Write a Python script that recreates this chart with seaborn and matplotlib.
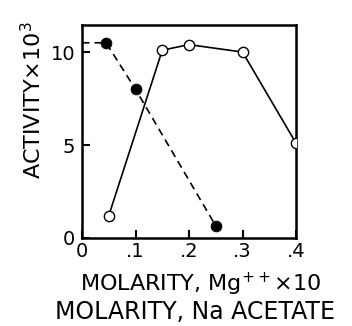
import matplotlib
matplotlib.use("Agg")
import matplotlib.pyplot as plt
import seaborn as sns
import pandas as pd

# Mg++ x10 series (open circles, solid line)
mg_x = [0.05, 0.15, 0.20, 0.30, 0.40]
mg_y = [1.2, 10.1, 10.4, 10.0, 5.1]

# Na acetate series (filled circles, dashed line)
na_x = [0.0, 0.045, 0.10, 0.25]
na_y = [10.5, 10.5, 8.0, 0.65]
na_marked = [False, True, True, True]

x_ticks = [0, 0.1, 0.2, 0.3, 0.4]
x_ticklabels = ["0", ".1", ".2", ".3", ".4"]
y_ticks = [0, 5, 10]
y_ticklabels = ["0", "5", "10"]

sns.set_style("white")
plt.rcParams['font.family'] = ['DejaVu Sans']
plt.rcParams['text.color'] = 'black'
plt.rcParams['xtick.color'] = 'black'
plt.rcParams['ytick.color'] = 'black'
plt.rcParams['axes.labelcolor'] = 'black'

fig = plt.figure(figsize=(3.52, 3.26), dpi=100)
ax = fig.add_axes([0.233, 0.270, 0.608, 0.653])

df_mg = pd.DataFrame({"x": mg_x, "y": mg_y})
df_na = pd.DataFrame({"x": na_x, "y": na_y, "m": na_marked})

sns.lineplot(data=df_na, x="x", y="y", ax=ax, color="black", lw=1.2,
             linestyle=(0, (4.5, 3)), sort=False)
sns.scatterplot(data=df_na[df_na["m"]], x="x", y="y", ax=ax, color="black",
                s=60, edgecolor="black", zorder=4)
sns.lineplot(data=df_mg, x="x", y="y", ax=ax, color="black", lw=1.2, sort=False)
sns.scatterplot(data=df_mg, x="x", y="y", ax=ax, facecolor="white",
                edgecolor="black", linewidth=1.0, s=55, zorder=5, clip_on=True)

ax.set_xlim(0, 0.4)
ax.set_ylim(0, 11.45)
ax.set_xticks(x_ticks)
ax.set_xticklabels(x_ticklabels)
ax.set_yticks(y_ticks)
ax.set_yticklabels(y_ticklabels)
ax.tick_params(direction="in", length=6, width=1.5, labelsize=14,
               bottom=True, left=True, top=False, right=False)
ax.tick_params(axis="x", pad=3)
ax.tick_params(axis="y", pad=5)
for s in ax.spines.values():
    s.set_color("black")
    s.set_linewidth(1.8)
ax.set_xlabel("")
ax.set_ylabel("")

fig.text(0.094, 0.693, "ACTIVITY×10$^3$", rotation=90, ha="center", va="center",
         fontsize=16)
fig.text(0.571, 0.129, "MOLARITY, Mg$^{++}$×10", ha="center", va="center",
         fontsize=16)
fig.text(0.553, 0.042, "MOLARITY, Na ACETATE", ha="center", va="center",
         fontsize=17)

fig.savefig("out.png", dpi=100)
